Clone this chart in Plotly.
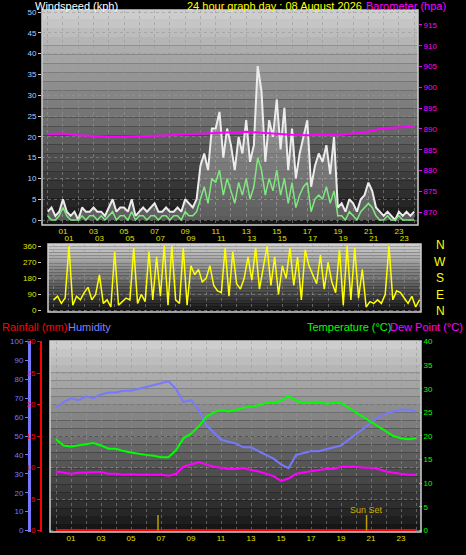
import plotly.graph_objects as go

# ---------------- data ----------------
hours_q = [i * 0.25 for i in range(97)]
hours_h = [i * 0.5 for i in range(49)]
hours_1 = list(range(25))

wind_gust = [2,3,1,2, 5,2,1,2, 0,3,2,2, 3,2,2,1, 3,5,2,3, 3,2,5,1, 2,3,2,3, 4,2,2,3,
             2,2,3,2, 5,4,3,5, 13,16,12,22, 22,26,15,22, 18,12,20,16, 24,14,18,37,
             31,14,24,20, 29,17,27,12, 22,10,16,20, 24,8,13,16, 14,18,11,20, 3,4,2,5,
             4,2,5,6, 9,7,3,2, 1,2,1,0, 2,1,2,1, 2]
wind_avg = [1,0,0,1, 3,1,0,0, 0,1,0,1, 1,0,1,0, 1,2,0,1, 1,0,2,0, 1,1,0,1, 1,0,1,1,
            0,1,1,0, 2,1,1,2, 5,8,4,10, 9,12,6,10, 7,4,9,6, 10,5,8,15,
            12,6,10,7, 12,6,10,4, 9,3,6,8, 9,2,5,6, 5,8,4,7, 1,1,0,2,
            1,0,2,3, 4,3,1,0, 0,1,0,0, 1,0,0,0, 0]
barometer = [888.8,888.9,888.5,888.3,888.1,888.1,888.2,888.4,888.5,888.7,888.8,889.0,
             889.2,889.3,889.1,888.8,888.6,888.5,888.6,888.5,888.9,889.4,890.2,890.3,890.5]
wind_dir = [60,80,40,70, 360,30,80,60, 100,130,60,90, 200,40,60,20, 330,30,50,70,
            60,350,40,90, 50,330,60,300, 80,360,30,360, 60,40,350,30, 250,200,230,160,
            180,250,140,110, 100,350,80,330, 150,120,180,300, 170,350,120,230,
            360,140,300,90, 250,180,350,140, 300,60,340,250, 200,150,310,120,
            270,160,100,340, 30,360,60,350, 70,230,20,50, 40,60,40,90,
            360,60,110,100, 70,40,80,20, 60]
humidity = [65,68,70,69,71,70,72,73,73,74,74,75,76,77,78,79,75,68,69,64,56,52,48,47,46,
            44,44,42,40,38,35,33,40,41,42,42,43,44,45,48,51,54,57,60,62,63,64,64,63]
temperature = [19.3,18,17.8,18,18.2,18.5,18,17.3,17.3,16.8,16.5,16.2,16,15.8,15.5,15.5,
               17,19.5,20.5,22,24,25,25.5,25.2,25.5,26,26.3,26.5,27,27,27.5,28.5,27.5,
               27,27,27.3,26.8,27,27,26,25,24,23,22,21,20,19.5,19.3,19.5]
dew_point = [12.5,12.2,12,12.2,12.3,12.3,12.4,12,12,11.8,11.9,11.8,11.8,11.7,11.8,11.6,
             12,13.5,14,14.5,14,13.5,13.3,13,13,13.2,12.8,12.5,12,11.5,10.5,11,12,12.3,
             12.5,12.8,13,13,13.5,13.5,13.5,13.3,13.3,13,12.5,12.2,12,11.8,11.8]
rainfall = [0] * 49
sunrise_h, sunset_h = 6.8, 20.7

# ---------------- layout helpers ----------------
W, H = 466, 555
def fx(px): return px / W
def fy(py): return 1 - py / H

fig = go.Figure()

fig.add_trace(go.Scatter(x=hours_q, y=wind_gust, mode="lines", line=dict(color="#ececec", width=2),
                         fill="tozeroy", fillcolor="rgba(220,220,220,0.35)",
                         xaxis="x", yaxis="y", showlegend=False))
fig.add_trace(go.Scatter(x=hours_q, y=wind_avg, mode="lines", line=dict(color="#7fe87f", width=1.5),
                         xaxis="x", yaxis="y", showlegend=False))
fig.add_trace(go.Scatter(x=hours_1, y=barometer, mode="lines", line=dict(color="#ff00ff", width=2),
                         xaxis="x", yaxis="y2", showlegend=False))
fig.add_trace(go.Scatter(x=hours_q, y=wind_dir, mode="lines", line=dict(color="#ffff00", width=1.5),
                         xaxis="x2", yaxis="y3", showlegend=False))
fig.add_trace(go.Scatter(x=hours_h, y=humidity, mode="lines", line=dict(color="#7878ff", width=2),
                         xaxis="x3", yaxis="y4", showlegend=False))
fig.add_trace(go.Scatter(x=hours_h, y=temperature, mode="lines", line=dict(color="#00ff00", width=2),
                         xaxis="x3", yaxis="y6", showlegend=False))
fig.add_trace(go.Scatter(x=hours_h, y=dew_point, mode="lines", line=dict(color="#ff00ff", width=2),
                         xaxis="x3", yaxis="y6", showlegend=False))
fig.add_trace(go.Scatter(x=hours_h, y=rainfall, mode="lines", line=dict(color="#ff0000", width=3),
                         xaxis="x3", yaxis="y5", showlegend=False))
for sh in (sunrise_h, sunset_h):
    fig.add_trace(go.Scatter(x=[sh, sh], y=[0, 3.3], mode="lines", line=dict(color="#b8a000", width=1.5),
                             xaxis="x3", yaxis="y6", showlegend=False))

font = "Liberation Sans, Arial, sans-serif"
tickf = dict(family=font, size=8)
grid = dict(showgrid=True, gridcolor="rgba(150,150,150,0.55)", griddash="dot", gridwidth=1, zeroline=False,
            automargin=False)
xt = dict(tickvals=list(range(0, 25)), ticktext=["" if h % 2 == 0 else "%02d" % h for h in range(0, 25)],
          tickfont=dict(family=font, size=8, color="#e0e000"), ticks="", **grid)

fig.update_layout(
    width=W, height=H, margin=dict(l=0, r=0, t=0, b=0, autoexpand=False),
    paper_bgcolor="black", plot_bgcolor="rgba(0,0,0,0)", font=dict(family=font),
    xaxis=dict(domain=[fx(42), fx(418)], range=[-0.375, 24.25], anchor="y", **xt),
    yaxis=dict(domain=[fy(225), fy(10)], range=[-1.2, 50.5], dtick=5, tickfont=dict(tickf, color="#a8d0ff"),
               ticks="outside", ticklen=3, tickcolor="#cccccc", **grid),
    yaxis2=dict(overlaying="y", side="right", range=[866.9, 918.6], tickvals=list(range(870, 916, 5)),
                tickfont=dict(tickf, color="#ff00ff"), ticks="outside", ticklen=3, tickcolor="#ff00ff",
                showgrid=False, zeroline=False, automargin=False),
    xaxis2=dict(domain=[fx(48), fx(421)], range=[-0.375, 24.1], anchor="y3", side="top", **xt),
    yaxis3=dict(domain=[fy(312), fy(244)], range=[-8, 372], tickvals=[0, 90, 180, 270, 360],
                tickfont=dict(tickf, color="#e0e000"), ticks="outside", ticklen=3, tickcolor="#cccccc", **grid),
    xaxis3=dict(domain=[fx(50), fx(421)], range=[-0.4, 24.33], anchor="y5", **xt),
    yaxis4=dict(anchor="free", position=fx(29), overlaying="y5", range=[-0.8, 100.3], dtick=10,
                tickfont=dict(tickf, color="#7878ff"), showline=True, linecolor="#7878ff", linewidth=3,
                ticks="outside", ticklen=3, tickcolor="#7878ff", showgrid=False, zeroline=False, automargin=False),
    yaxis5=dict(domain=[fy(532), fy(341)], range=[-0.24, 30.1], dtick=5, tickfont=dict(tickf, color="#ff0000"),
                showline=True, linecolor="#ff0000", linewidth=2, ticks="outside", ticklen=3, tickcolor="#ff0000",
                **grid),
    yaxis6=dict(overlaying="y5", side="right", range=[-0.32, 40.1], dtick=5, tickfont=dict(tickf, color="#00ff00"),
                ticks="outside", ticklen=3, tickcolor="#00ff00", showgrid=False, zeroline=False, automargin=False),
)

shapes = []
nb = 24
for xr, yr in (("x", "y"), ("x2", "y3"), ("x3", "y5")):
    for i in range(nb):
        t = i / nb
        v = int(205 - 190 * t)
        shapes.append(dict(type="rect", xref=xr + " domain", yref=yr + " domain", x0=0, x1=1,
                           y0=1 - (i + 1) / nb, y1=1 - i / nb, fillcolor="rgb(%d,%d,%d)" % (v, v, v),
                           line=dict(width=0), layer="below"))
    shapes.append(dict(type="rect", xref=xr + " domain", yref=yr + " domain", x0=0, x1=1, y0=0, y1=1,
                       line=dict(color="#d0d0d0", width=1.5), layer="above"))
fig.update_layout(shapes=shapes)

ann = []
def txt(x, y, s, c, anchor="left", size=11):
    ann.append(dict(x=fx(x), y=fy(y), xref="paper", yref="paper", text=s, showarrow=False,
                    xanchor=anchor, yanchor="middle", font=dict(family=font, size=size, color=c)))
txt(33, 6, "Windspeed (kph)", "white")
txt(274, 6, "24 hour graph day : 08 August 2026", "#ffff00", "center")
txt(448, 6, "Barometer (hpa)", "#ff00ff", "right")
txt(0, 327, "Rainfall (mm)", "#ff0000")
txt(66, 327, "Humidity", "#8080ff")
txt(393, 327, "Temperature (°C)", "#00ff00", "right")
txt(465, 327, "Dew Point (°C)", "#ff00ff", "right")
for i, L in enumerate(["N", "W", "S", "E", "N"]):
    txt(440, 245 + i * 16.5, L, "#ffff00", "center", 12)
ann.append(dict(x=sunset_h, y=4.3, xref="x3", yref="y6", text="Sun Set", showarrow=False,
                font=dict(family=font, size=9, color="#c8b000")))
fig.update_layout(annotations=ann)

fig.write_html("out.html", config={"displayModeBar": False},
               post_script="document.body.style.margin='0';document.body.style.overflow='hidden';")
